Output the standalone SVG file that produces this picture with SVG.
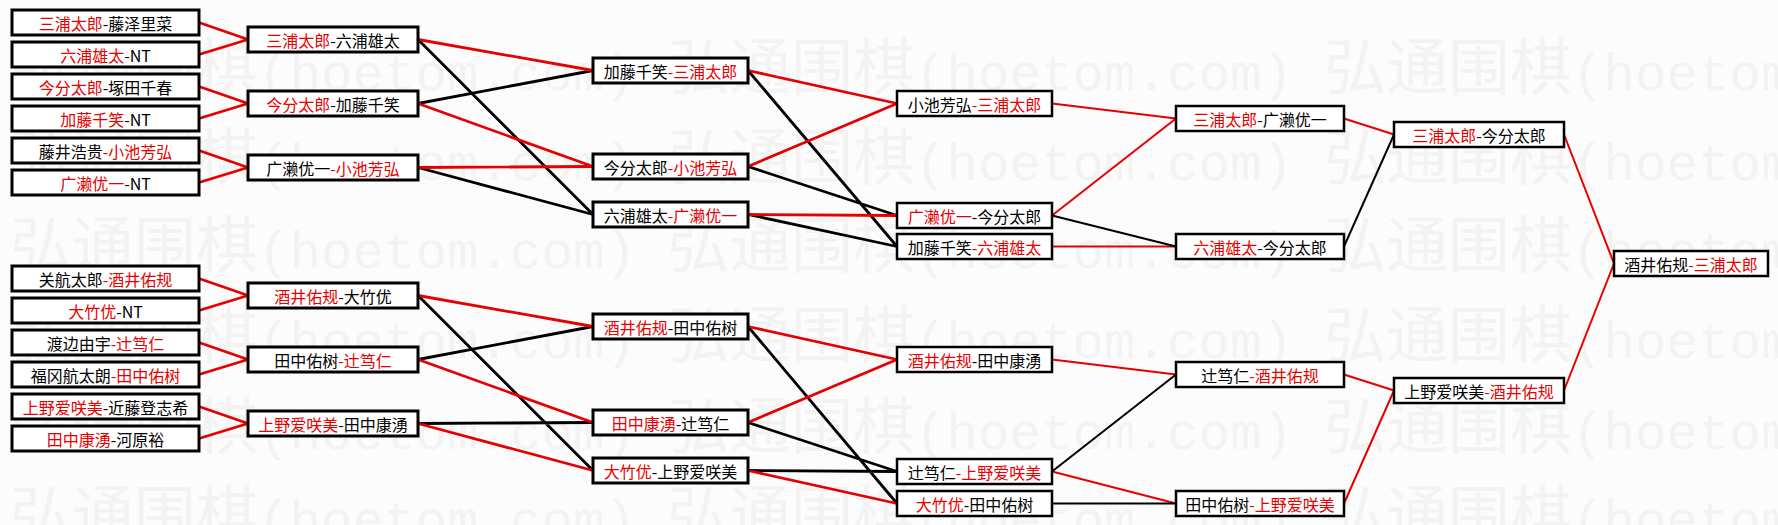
<svg xmlns="http://www.w3.org/2000/svg" width="1778" height="525" viewBox="0 0 1778 525">
<style>
.bg{fill:#fcfcfc}
.wm{font-family:"Noto Sans CJK SC",sans-serif;font-size:62px;fill:#f3f3f3}
.wl{font-family:"Liberation Mono",monospace;font-size:52.5px}
.b1{fill:#fff;stroke:#000;stroke-width:3}
.b2{fill:#fff;stroke:#000;stroke-width:2.5}
.t{font-family:"Noto Sans CJK SC",sans-serif;font-size:16px;text-anchor:middle;dominant-baseline:central;fill:#000}
.r{fill:#e60000}
.cr{stroke:#e60000;stroke-width:2.8;fill:none}
.cb{stroke:#000;stroke-width:2.8;fill:none}
.dr{stroke:#e60000;stroke-width:2;fill:none}
.db{stroke:#000;stroke-width:2;fill:none}
</style>
<rect class="bg" x="0" y="0" width="1778" height="525"/>
<g id="watermark">
<text class="wm" y="90"><tspan x="10">弘通围棋</tspan><tspan class="wl">(hoetom.com)</tspan><tspan x="667">弘通围棋</tspan><tspan class="wl">(hoetom.com)</tspan><tspan x="1324">弘通围棋</tspan><tspan class="wl">(hoetom.com)</tspan></text>
<text class="wm" y="180"><tspan x="10">弘通围棋</tspan><tspan class="wl">(hoetom.com)</tspan><tspan x="667">弘通围棋</tspan><tspan class="wl">(hoetom.com)</tspan><tspan x="1324">弘通围棋</tspan><tspan class="wl">(hoetom.com)</tspan></text>
<text class="wm" y="268"><tspan x="10">弘通围棋</tspan><tspan class="wl">(hoetom.com)</tspan><tspan x="667">弘通围棋</tspan><tspan class="wl">(hoetom.com)</tspan><tspan x="1324">弘通围棋</tspan><tspan class="wl">(hoetom.com)</tspan></text>
<text class="wm" y="358"><tspan x="10">弘通围棋</tspan><tspan class="wl">(hoetom.com)</tspan><tspan x="667">弘通围棋</tspan><tspan class="wl">(hoetom.com)</tspan><tspan x="1324">弘通围棋</tspan><tspan class="wl">(hoetom.com)</tspan></text>
<text class="wm" y="449"><tspan x="10">弘通围棋</tspan><tspan class="wl">(hoetom.com)</tspan><tspan x="667">弘通围棋</tspan><tspan class="wl">(hoetom.com)</tspan><tspan x="1324">弘通围棋</tspan><tspan class="wl">(hoetom.com)</tspan></text>
<text class="wm" y="537"><tspan x="10">弘通围棋</tspan><tspan class="wl">(hoetom.com)</tspan><tspan x="667">弘通围棋</tspan><tspan class="wl">(hoetom.com)</tspan><tspan x="1324">弘通围棋</tspan><tspan class="wl">(hoetom.com)</tspan></text>
</g>
<g id="connectors">
<path class="cr" d="M199 22.5L248 39.5M199 54.5L248 39.5M199 86.5L248 103.5M199 118.5L248 103.5M199 150.5L248 167.5M199 182.5L248 167.5"/>
<path class="cr" d="M199 278.5L248 295.5M199 310.5L248 295.5M199 342.5L248 359.5M199 374.5L248 359.5M199 406.5L248 423.5M199 438.5L248 423.5"/>
<path class="cb" d="M418 39.5L593 214.5M418 103.5L593 70.5M418 167.5L593 214.5"/>
<path class="cr" d="M418 39.5L593 70.5M418 103.5L593 166.5M418 167.5L593 166.5"/>
<path class="cb" d="M418 295.5L593 470.5M418 359.5L593 326.5M418 423.5L593 422.5"/>
<path class="cr" d="M418 295.5L593 326.5M418 359.5L593 422.5M418 423.5L593 470.5"/>
<path class="cb" d="M748 70.5L897 246.5M748 166.5L897 215.5M748 214.5L897 246.5"/>
<path class="cr" d="M748 70.5L897 103.5M748 166.5L897 103.5M748 214.5L897 215.5"/>
<path class="cb" d="M748 326.5L897 503.5M748 422.5L897 471.5M748 470.5L897 471.5"/>
<path class="cr" d="M748 326.5L897 359.5M748 422.5L897 359.5M748 470.5L897 503.5"/>
<path class="dr" d="M1052 103.5L1176 118.5M1052 215.5L1176 118.5M1052 246.5L1176 246.5"/>
<path class="db" d="M1052 215.5L1176 246.5"/>
<path class="dr" d="M1052 359.5L1176 374.5M1052 471.5L1176 503.5"/>
<path class="db" d="M1052 471.5L1176 374.5M1052 503.5L1176 503.5"/>
<path class="dr" d="M1344 118.5L1394 134.5M1344 374.5L1394 390.5M1344 503.5L1394 390.5"/>
<path class="db" d="M1344 246.5L1394 134.5"/>
<path class="dr" d="M1564 134.5L1614 263.5M1564 390.5L1614 263.5"/>
</g>
<g id="n-r1-1"><rect class="b1" x="12" y="10" width="187" height="25"/><text class="t" x="105.5" y="23"><tspan class="r">三浦太郎</tspan>-藤泽里菜</text></g>
<g id="n-r1-2"><rect class="b1" x="12" y="42" width="187" height="25"/><text class="t" x="105.5" y="55"><tspan class="r">六浦雄太</tspan>-NT</text></g>
<g id="n-r1-3"><rect class="b1" x="12" y="74" width="187" height="25"/><text class="t" x="105.5" y="87"><tspan class="r">今分太郎</tspan>-塚田千春</text></g>
<g id="n-r1-4"><rect class="b1" x="12" y="106" width="187" height="25"/><text class="t" x="105.5" y="119"><tspan class="r">加藤千笑</tspan>-NT</text></g>
<g id="n-r1-5"><rect class="b1" x="12" y="138" width="187" height="25"/><text class="t" x="105.5" y="151">藤井浩贵<tspan class="r">-小池芳弘</tspan></text></g>
<g id="n-r1-6"><rect class="b1" x="12" y="170" width="187" height="25"/><text class="t" x="105.5" y="183"><tspan class="r">广濑优一</tspan>-NT</text></g>
<g id="n-r1-7"><rect class="b1" x="12" y="266" width="187" height="25"/><text class="t" x="105.5" y="279">关航太郎<tspan class="r">-酒井佑规</tspan></text></g>
<g id="n-r1-8"><rect class="b1" x="12" y="298" width="187" height="25"/><text class="t" x="105.5" y="311"><tspan class="r">大竹优</tspan>-NT</text></g>
<g id="n-r1-9"><rect class="b1" x="12" y="330" width="187" height="25"/><text class="t" x="105.5" y="343">渡边由宇<tspan class="r">-辻笃仁</tspan></text></g>
<g id="n-r1-10"><rect class="b1" x="12" y="362" width="187" height="25"/><text class="t" x="105.5" y="375">福冈航太朗<tspan class="r">-田中佑树</tspan></text></g>
<g id="n-r1-11"><rect class="b1" x="12" y="394" width="187" height="25"/><text class="t" x="105.5" y="407"><tspan class="r">上野爱咲美</tspan>-近藤登志希</text></g>
<g id="n-r1-12"><rect class="b1" x="12" y="426" width="187" height="25"/><text class="t" x="105.5" y="439"><tspan class="r">田中康湧</tspan>-河原裕</text></g>
<g id="n-r2-1"><rect class="b1" x="248" y="27" width="170" height="25"/><text class="t" x="333" y="40"><tspan class="r">三浦太郎</tspan>-六浦雄太</text></g>
<g id="n-r2-2"><rect class="b1" x="248" y="91" width="170" height="25"/><text class="t" x="333" y="104"><tspan class="r">今分太郎</tspan>-加藤千笑</text></g>
<g id="n-r2-3"><rect class="b1" x="248" y="155" width="170" height="25"/><text class="t" x="333" y="168">广濑优一<tspan class="r">-小池芳弘</tspan></text></g>
<g id="n-r2-4"><rect class="b1" x="248" y="283" width="170" height="25"/><text class="t" x="333" y="296"><tspan class="r">酒井佑规</tspan>-大竹优</text></g>
<g id="n-r2-5"><rect class="b1" x="248" y="347" width="170" height="25"/><text class="t" x="333" y="360">田中佑树<tspan class="r">-辻笃仁</tspan></text></g>
<g id="n-r2-6"><rect class="b1" x="248" y="411" width="170" height="25"/><text class="t" x="333" y="424"><tspan class="r">上野爱咲美</tspan>-田中康湧</text></g>
<g id="n-r3-1"><rect class="b1" x="593" y="58" width="155" height="25"/><text class="t" x="670.5" y="71">加藤千笑<tspan class="r">-三浦太郎</tspan></text></g>
<g id="n-r3-2"><rect class="b1" x="593" y="154" width="155" height="25"/><text class="t" x="670.5" y="167">今分太郎<tspan class="r">-小池芳弘</tspan></text></g>
<g id="n-r3-3"><rect class="b1" x="593" y="202" width="155" height="25"/><text class="t" x="670.5" y="215">六浦雄太<tspan class="r">-广濑优一</tspan></text></g>
<g id="n-r3-4"><rect class="b1" x="593" y="314" width="155" height="25"/><text class="t" x="670.5" y="327"><tspan class="r">酒井佑规</tspan>-田中佑树</text></g>
<g id="n-r3-5"><rect class="b1" x="593" y="410" width="155" height="25"/><text class="t" x="670.5" y="423"><tspan class="r">田中康湧</tspan>-辻笃仁</text></g>
<g id="n-r3-6"><rect class="b1" x="593" y="458" width="155" height="25"/><text class="t" x="670.5" y="471"><tspan class="r">大竹优</tspan>-上野爱咲美</text></g>
<g id="n-r4-1"><rect class="b2" x="897" y="91" width="155" height="25"/><text class="t" x="974.5" y="104">小池芳弘<tspan class="r">-三浦太郎</tspan></text></g>
<g id="n-r4-2"><rect class="b2" x="897" y="203" width="155" height="25"/><text class="t" x="974.5" y="216"><tspan class="r">广濑优一</tspan>-今分太郎</text></g>
<g id="n-r4-3"><rect class="b2" x="897" y="234" width="155" height="25"/><text class="t" x="974.5" y="247">加藤千笑<tspan class="r">-六浦雄太</tspan></text></g>
<g id="n-r4-4"><rect class="b2" x="897" y="347" width="155" height="25"/><text class="t" x="974.5" y="360"><tspan class="r">酒井佑规</tspan>-田中康湧</text></g>
<g id="n-r4-5"><rect class="b2" x="897" y="459" width="155" height="25"/><text class="t" x="974.5" y="472">辻笃仁<tspan class="r">-上野爱咲美</tspan></text></g>
<g id="n-r4-6"><rect class="b2" x="897" y="491" width="155" height="25"/><text class="t" x="974.5" y="504"><tspan class="r">大竹优</tspan>-田中佑树</text></g>
<g id="n-r5-1"><rect class="b2" x="1176" y="106" width="168" height="25"/><text class="t" x="1260" y="119"><tspan class="r">三浦太郎</tspan>-广濑优一</text></g>
<g id="n-r5-2"><rect class="b2" x="1176" y="234" width="168" height="25"/><text class="t" x="1260" y="247"><tspan class="r">六浦雄太</tspan>-今分太郎</text></g>
<g id="n-r5-3"><rect class="b2" x="1176" y="362" width="168" height="25"/><text class="t" x="1260" y="375">辻笃仁<tspan class="r">-酒井佑规</tspan></text></g>
<g id="n-r5-4"><rect class="b2" x="1176" y="491" width="168" height="25"/><text class="t" x="1260" y="504">田中佑树<tspan class="r">-上野爱咲美</tspan></text></g>
<g id="n-r6-1"><rect class="b2" x="1394" y="122" width="170" height="25"/><text class="t" x="1479" y="135"><tspan class="r">三浦太郎</tspan>-今分太郎</text></g>
<g id="n-r6-2"><rect class="b2" x="1394" y="378" width="170" height="25"/><text class="t" x="1479" y="391">上野爱咲美<tspan class="r">-酒井佑规</tspan></text></g>
<g id="n-final"><rect class="b2" x="1614" y="251" width="154" height="25"/><text class="t" x="1691" y="264">酒井佑规<tspan class="r">-三浦太郎</tspan></text></g>
</svg>
